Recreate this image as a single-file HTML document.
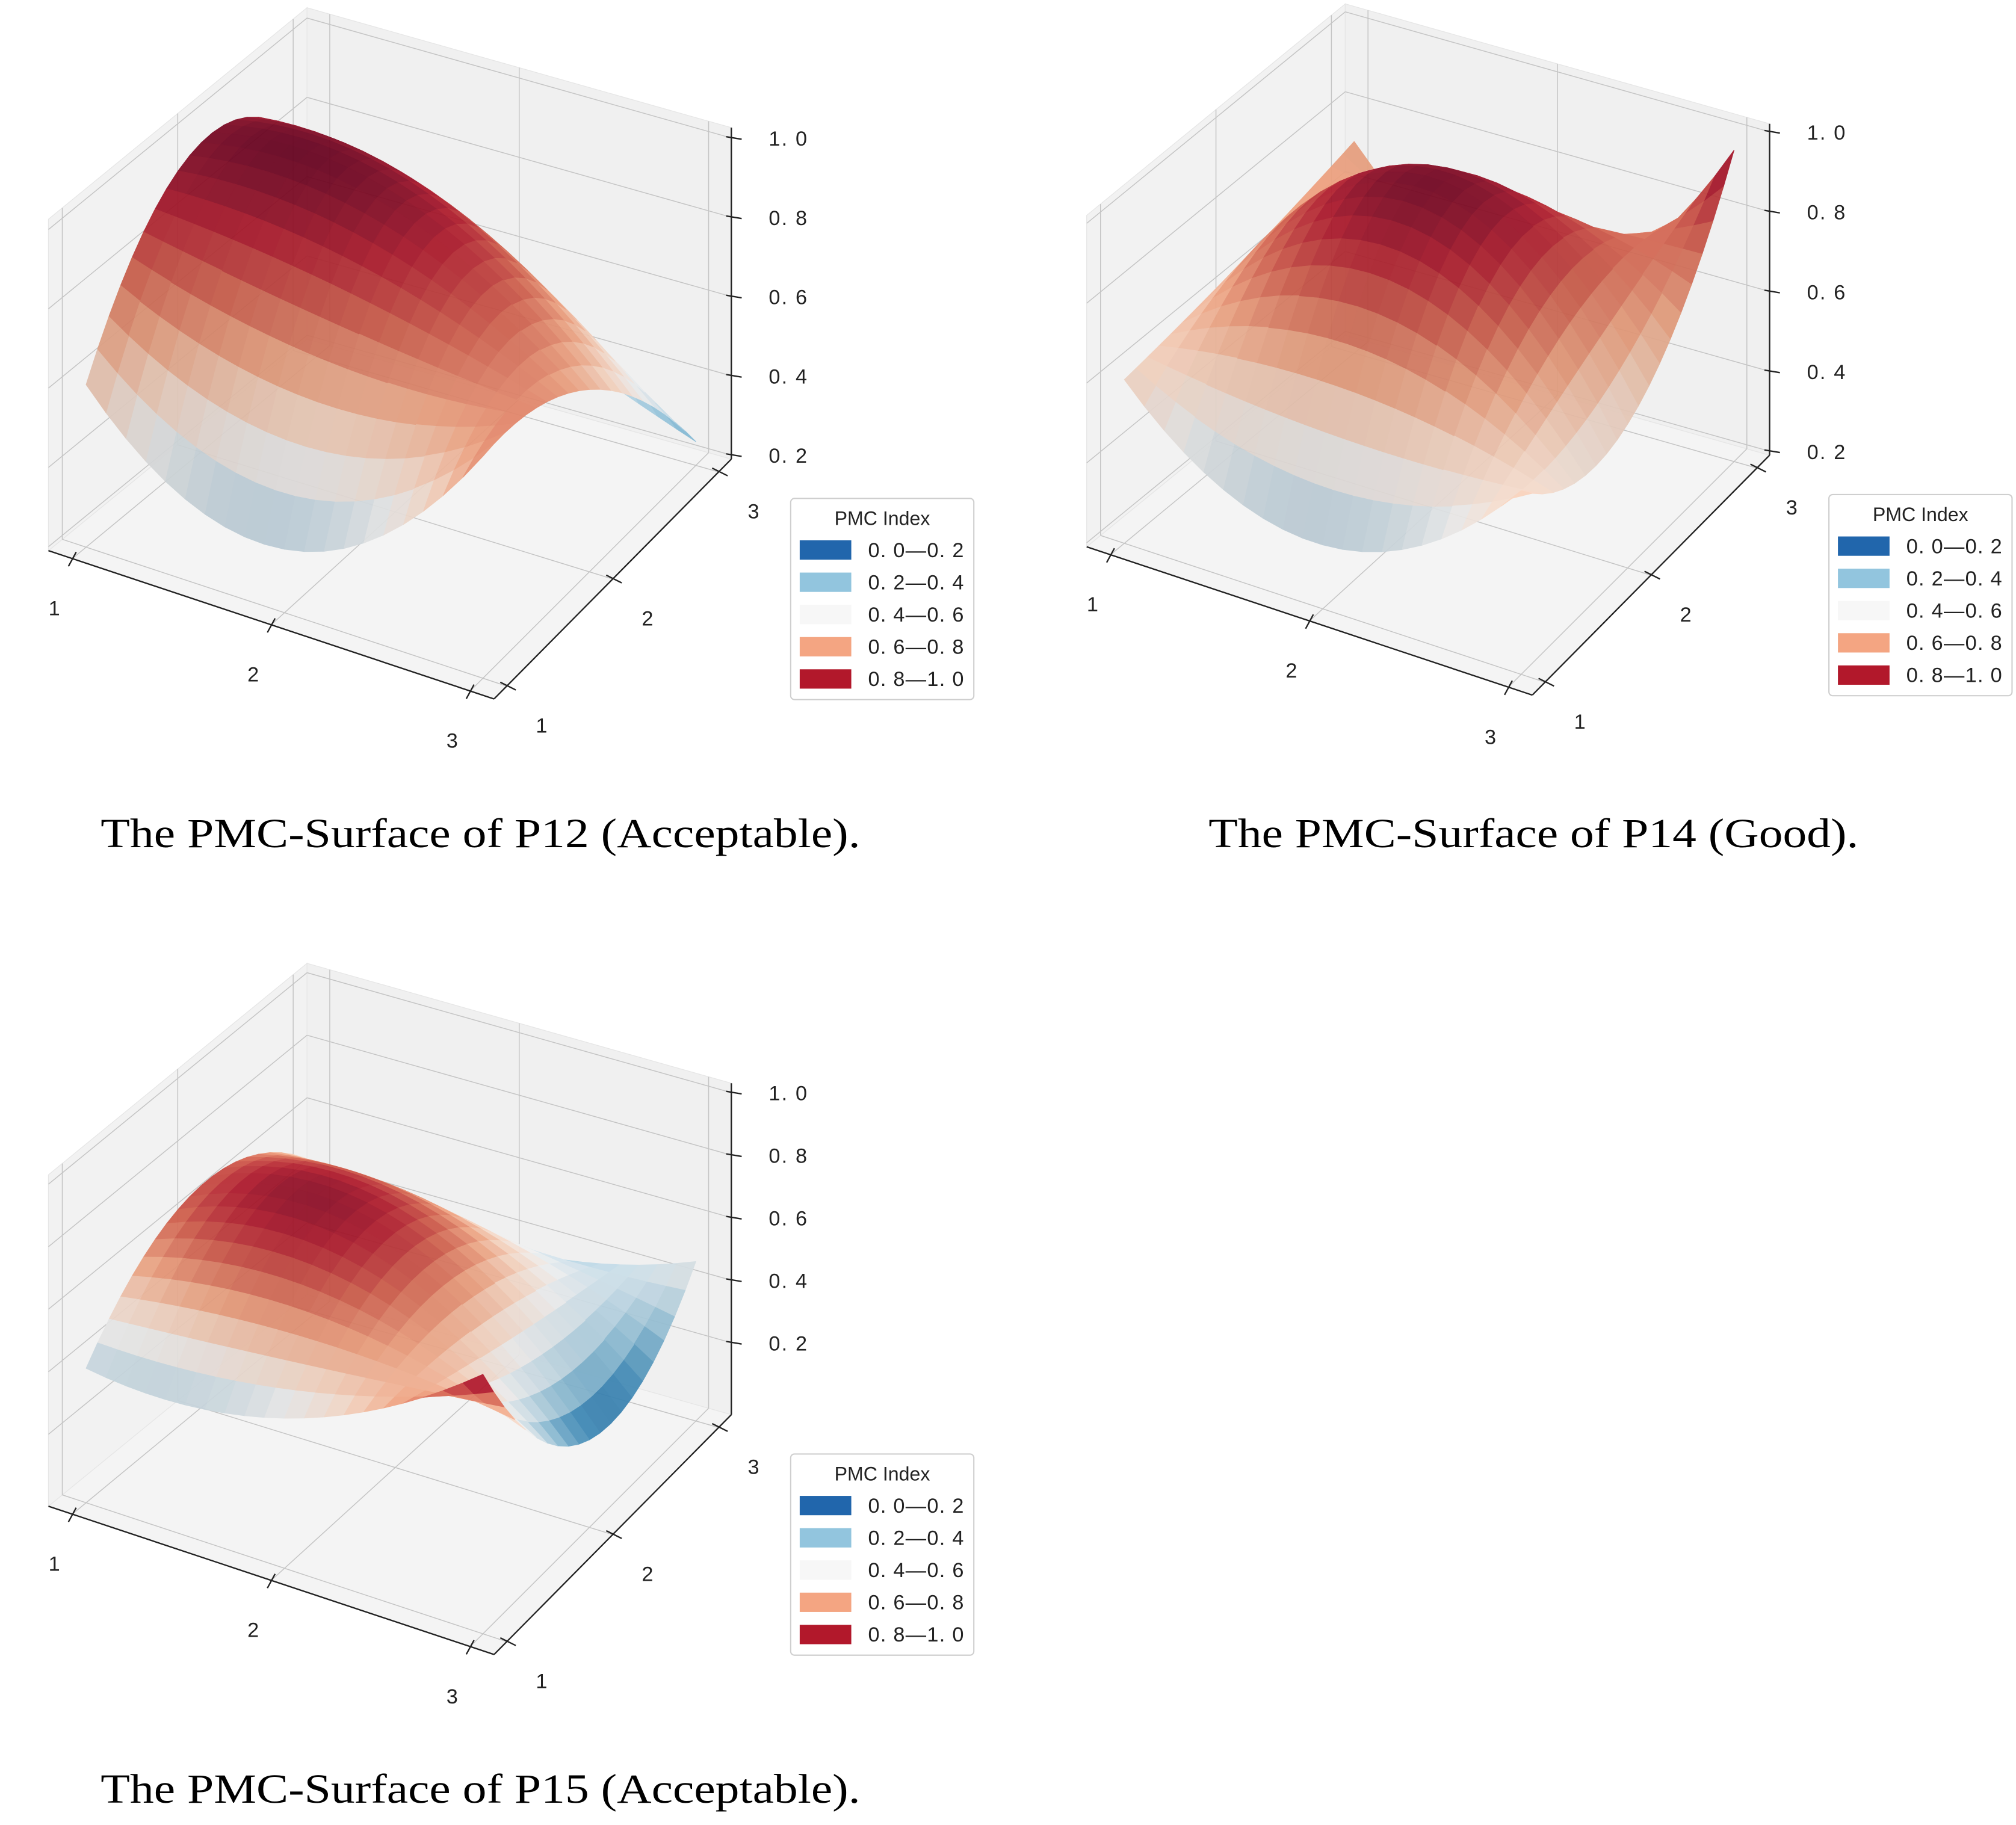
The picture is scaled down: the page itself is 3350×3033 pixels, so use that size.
<!DOCTYPE html>
<html><head><meta charset="utf-8">
<style>
html,body{margin:0;padding:0;background:#fff;}
svg{display:block;}
</style></head>
<body>
<svg id="root" xmlns="http://www.w3.org/2000/svg" width="3350" height="3033" viewBox="0 0 1563 1415.2">
<rect x="0" y="0" width="1563" height="1415.2" fill="#ffffff"/>
<g id="c1" transform="translate(0,0)"></g>
<g id="c2" transform="translate(805,-3)"></g>
<g id="c3" transform="translate(0,741)"></g>
<text x="78" y="657" font-family="'Liberation Serif', serif" font-size="32" textLength="589" lengthAdjust="spacingAndGlyphs" fill="#000">The PMC-Surface of P12 (Acceptable).</text>
<text x="937" y="657" font-family="'Liberation Serif', serif" font-size="32" textLength="504" lengthAdjust="spacingAndGlyphs" fill="#000">The PMC-Surface of P14 (Good).</text>
<text x="78" y="1398" font-family="'Liberation Serif', serif" font-size="32" textLength="589" lengthAdjust="spacingAndGlyphs" fill="#000">The PMC-Surface of P15 (Acceptable).</text>
</svg>
<script>
// ---- data ----
const xCategories = [1, 2, 3];
const yCategories = [1, 2, 3];
const xTickLabels = ["1", "2", "3"];
const yTickLabels = ["1", "2", "3"];
// rows indexed by x (1..3), columns by y (1..3)
const p12Values = [[0.60, 0.97, 0.70], [0.35, 0.95, 0.45], [0.75, 0.65, 0.25]];
const p14Values = [[0.60, 0.65, 0.72], [0.35, 0.98, 0.50], [0.65, 0.55, 0.97]];
const p15Values = [[0.40, 0.68, 0.45], [0.45, 0.72, 0.35], [0.80, 0.25, 0.48]];
const zTicksA = [0.2, 0.4, 0.6, 0.8, 1.0];
const zTickLabelsA = ["0. 2", "0. 4", "0. 6", "0. 8", "1. 0"];
const legendLabels = ["0. 0\u20140. 2", "0. 2\u20140. 4", "0. 4\u20140. 6", "0. 6\u20140. 8", "0. 8\u20141. 0"];
const legendColors = ["#2166ac", "#92c5de", "#f7f7f7", "#f4a582", "#b2182b"];

const NS = "http://www.w3.org/2000/svg";
const RDBU = ["#053061","#2166ac","#4393c3","#92c5de","#d1e5f0","#f7f7f7","#fddbc7","#f4a582","#d6604d","#b2182b","#67001f"];
function hex(h){return [parseInt(h.substr(1,2),16),parseInt(h.substr(3,2),16),parseInt(h.substr(5,2),16)];}
function cmap(t, shade){
  t=Math.max(0,Math.min(1,t));
  const p=t*(RDBU.length-1), i=Math.min(RDBU.length-2,Math.floor(p)), f=p-i;
  const a=hex(RDBU[i]), b=hex(RDBU[i+1]);
  const c=a.map((v,k)=>Math.round((v+(b[k]-v)*f)*shade));
  return "rgb("+c.join(",")+")";
}
function mk(tag, attrs, parent){
  const e=document.createElementNS(NS,tag);
  for(const k in attrs) e.setAttribute(k,attrs[k]);
  parent.appendChild(e);
  return e;
}
function lag(t, k){
  const n=[1,2,3];
  let r=1;
  for(let j=0;j<3;j++){ if(j!==k) r*=(t-n[j])/(n[k]-n[j]); }
  return r;
}
function surfZ(vals,x,y){
  let s=0;
  for(let i=0;i<3;i++) for(let j=0;j<3;j++) s+=vals[i][j]*lag(x,i)*lag(y,j);
  return s;
}

const L=[37.5,427], F=[383,542], R=[567,356], B=[238,263];
const XLIM=[0.88,3.12], YLIM=[0.88,3.12];
const BOXH=257;

function buildChart(gid, vals, zmin, zmax, vmin, vmax, zTicks, zLabels){
  const g=document.getElementById(gid);
  const k=BOXH/(zmax-zmin);
  function proj(x,y,z){
    const u=(x-XLIM[0])/(XLIM[1]-XLIM[0]), v=(y-YLIM[0])/(YLIM[1]-YLIM[0]);
    const a=(1-u)*(1-v), b=u*(1-v), c=u*v, d=(1-u)*v;
    const px=L[0]*a+F[0]*b+R[0]*c+B[0]*d;
    const py=L[1]*a+F[1]*b+R[1]*c+B[1]*d-(z-zmin)*k;
    return [px,py];
  }
  function pts(arr){return arr.map(p=>p[0].toFixed(2)+","+p[1].toFixed(2)).join(" ");}
  const x0=XLIM[0],x1=XLIM[1],y0=YLIM[0],y1=YLIM[1];
  const floor=mk("polygon",{points:pts([proj(x0,y0,zmin),proj(x1,y0,zmin),proj(x1,y1,zmin),proj(x0,y1,zmin)]),fill:"#f4f4f4",stroke:"#e6e6e6","stroke-width":0.6},g);
  
  
  const left=mk("polygon",{points:pts([proj(x0,y0,zmin),proj(x0,y1,zmin),proj(x0,y1,zmax),proj(x0,y0,zmax)]),fill:"#f2f2f2",stroke:"#e6e6e6","stroke-width":0.6},g);
  
  
  const back=mk("polygon",{points:pts([proj(x0,y1,zmin),proj(x1,y1,zmin),proj(x1,y1,zmax),proj(x0,y1,zmax)]),fill:"#f0f0f0",stroke:"#e6e6e6","stroke-width":0.6},g);
  
  
  const gs={stroke:"#c4c4c4","stroke-width":0.7,fill:"none"};
  function gl(a,b,name){
    const l=mk("line",Object.assign({x1:a[0],y1:a[1],x2:b[0],y2:b[1]},gs),g);
    
    
  }
  xCategories.forEach(x=>{
    gl(proj(x,y0,zmin),proj(x,y1,zmin),'floor-gridline-x');
    gl(proj(x,y1,zmin),proj(x,y1,zmax),'back-gridline-x');
  });
  yCategories.forEach(y=>{
    gl(proj(x0,y,zmin),proj(x1,y,zmin),'floor-gridline-y');
    gl(proj(x0,y,zmin),proj(x0,y,zmax),'left-gridline-y');
  });
  zTicks.forEach(z=>{
    gl(proj(x0,y0,z),proj(x0,y1,z),'left-gridline-z');
    gl(proj(x0,y1,z),proj(x1,y1,z),'back-gridline-z');
  });
  const N=20, quads=[];
  for(let i=0;i<N;i++) for(let j=0;j<N;j++){
    const xa=1+2*i/N, xb=1+2*(i+1)/N, ya=1+2*j/N, yb=1+2*(j+1)/N;
    const z00=surfZ(vals,xa,ya), z10=surfZ(vals,xb,ya), z11=surfZ(vals,xb,yb), z01=surfZ(vals,xa,yb);
    const zm=(z00+z10+z11+z01)/4;
    const u=((xa+xb)/2-x0)/(x1-x0), v=((ya+yb)/2-y0)/(y1-y0), zn=(zm-zmin)/(zmax-zmin);
    const key=0.433*u-0.75*v+0.5*zn;
    const dx=(z10+z11-z00-z01)/2/((xb-xa)), dy=(z01+z11-z00-z10)/2/((yb-ya));
    const nrm=[-dx,-dy,1]; const ln=Math.hypot(nrm[0],nrm[1],nrm[2]);
    const lt=[-0.4,0.5,0.77]; const dot=(nrm[0]*lt[0]+nrm[1]*lt[1]+nrm[2]*lt[2])/ln;
    const shade=0.86+0.14*Math.max(0,dot);
    quads.push({key,p:[proj(xa,ya,z00),proj(xb,ya,z10),proj(xb,yb,z11),proj(xa,yb,z01)],c:cmap((zm-vmin)/(vmax-vmin),shade)});
  }
  quads.sort((a,b)=>a.key-b.key);
  const sg=mk("g",{opacity:0.93},g);
  
  
  quads.forEach(q=>{
    const p=mk("polygon",{points:pts(q.p),fill:q.c,stroke:q.c,"stroke-width":0.5,"stroke-linejoin":"round"},sg);
    
    
  });
  function al(a,b,name){
    const l=mk("line",{x1:a[0],y1:a[1],x2:b[0],y2:b[1],stroke:"#222","stroke-width":1.1},g);
    
    
  }
  al(proj(x0,y0,zmin),proj(x1,y0,zmin),'x-axis-line');
  al(proj(x1,y0,zmin),proj(x1,y1,zmin),'y-axis-line');
  al(proj(x1,y1,zmin),proj(x1,y1,zmax),'z-axis-line');
  const ts={"font-family":"'Liberation Sans', 'WenQuanYi Zen Hei', sans-serif","font-size":16,fill:"#222"};
  xCategories.forEach((x,i)=>{
    const p=proj(x,y0,zmin);
    al([p[0]+3,p[1]-5],[p[0]-3,p[1]+6],'x-tick');
    const t=mk("text",Object.assign({x:p[0]-14,y:p[1]+44,"text-anchor":"middle"},ts),g);
    t.textContent=xTickLabels[i];
    
    
  });
  yCategories.forEach((y,i)=>{
    const p=proj(x1,y,zmin);
    al([p[0]-5,p[1]-3],[p[0]+7,p[1]+3],'y-tick');
    const t=mk("text",Object.assign({x:p[0]+27,y:p[1]+36,"text-anchor":"middle"},ts),g);
    t.textContent=yTickLabels[i];
    
    
  });
  zTicks.forEach((z,i)=>{
    const p=proj(x1,y1,z);
    al([p[0]-4,p[1]-1],[p[0]+8,p[1]+1],'z-tick');
    const t=mk("text",Object.assign({x:p[0]+29,y:p[1]+6,"letter-spacing":1},ts),g);
    t.textContent=zLabels[i];
    
    
  });
  const lg=mk("g",{},g);
  
  
  const box=mk("rect",{x:613,y:386.5,width:142,height:156,rx:3,fill:"#fff",stroke:"#cfcfcf","stroke-width":1},lg);
  
  
  const lt=mk("text",Object.assign({x:684,y:407,"text-anchor":"middle"},ts,{"font-size":15}),lg);
  lt.textContent="PMC Index";
  
  
  legendLabels.forEach((lab,i)=>{
    const yy=426+25*i;
    const sw=mk("rect",{x:620,y:yy-7,width:40,height:15,fill:legendColors[i]},lg);
    
    
    const tx=mk("text",Object.assign({x:673,y:yy+6,"letter-spacing":0.6},ts),lg);
    tx.textContent=lab;
    
    
  });
}
buildChart("c1", p12Values, 0.19, 1.026, 0.0, 1.0, zTicksA, zTickLabelsA);
buildChart("c2", p14Values, 0.19, 1.02, 0.0, 1.0, zTicksA, zTickLabelsA);
buildChart("c3", p15Values, -0.03, 1.03, 0.15, 0.8, zTicksA, zTickLabelsA);
</script>
</body></html>
